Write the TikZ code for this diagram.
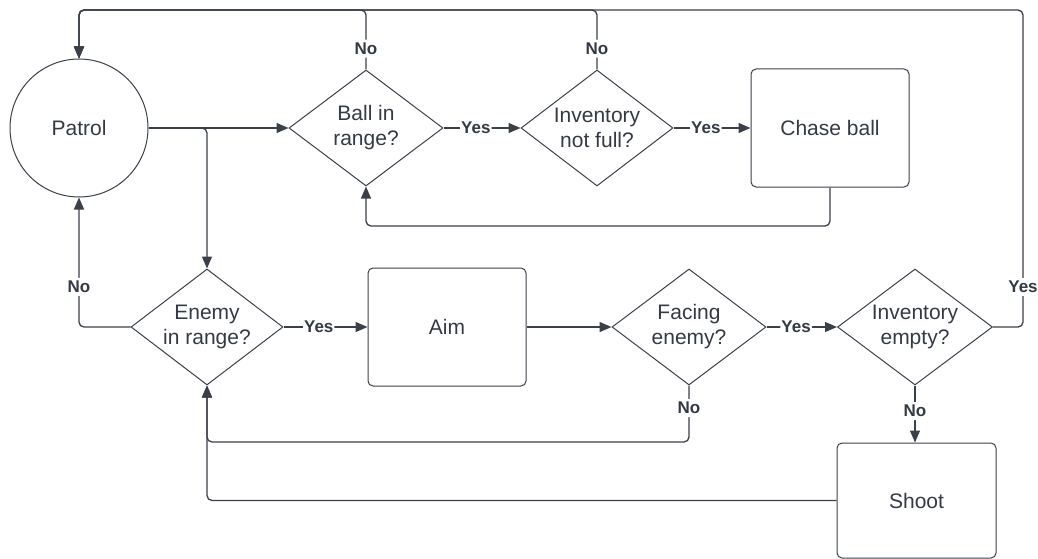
\documentclass[tikz,border=0pt]{standalone}
\usepackage{fontspec}
\setmainfont{Liberation Sans}
\usetikzlibrary{shapes.geometric,arrows.meta}

\definecolor{ink}{HTML}{3A4049}
\definecolor{txt}{HTML}{343A44}

\tikzset{
  every node/.style={text=txt},
  base/.style={draw=ink, line width=1pt, align=center,
    font=\fontsize{21}{25}\selectfont},
  stateC/.style={base, circle, minimum size=138pt, inner sep=0pt},
  task/.style={base, rectangle, rounded corners=5pt, minimum width=158pt,
    minimum height=118pt, inner sep=0pt},
  query/.style={base, diamond, minimum width=#1, minimum height=116pt,
    inner xsep=-40pt, inner ysep=-25pt},
  query/.default=154pt,
  link/.style={draw=ink, line width=1.3pt, rounded corners=5pt},
  arr/.style={link, -{Triangle[length=12pt,width=10pt]}},
  tag/.style={fill=white, inner xsep=1pt, inner ysep=3pt,
    font=\fontsize{17}{19}\selectfont\bfseries, text=txt}
}

\begin{document}
\begin{tikzpicture}[x=1pt, y=-1pt]
\useasboundingbox (0,0) rectangle (1038,559);

% states and decisions
\node[stateC] (patrol) at (79,128) {Patrol};
\node[query] (ball) at (366,128) {Ball in\\range?};
\node[query=152pt] (notfull) at (597,128) {Inventory\\not full?};
\node[task] (chase) at (830,128) {Chase ball};

\node[query=152pt] (enemy) at (207,327) {Enemy\\in range?};
\node[task] (aim) at (447,327) {Aim};
\node[query] (facing) at (689,327) {Facing\\enemy?};
\node[query=155pt] (empty) at (915,327) {Inventory\\empty?};
\node[task, minimum width=159pt, minimum height=115pt] (shoot) at (916.5,500.5) {Shoot};

% routing helpers
\coordinate (top) at (79,10);
\coordinate (rightrail) at (1023,10);
\coordinate (ballret) at (0,226);
\coordinate (aimret) at (0,442);

% patrol outputs
\draw[arr] (patrol.east) -- (ball.west);
\draw[arr] (patrol.east) -| (enemy.north);

% ball branch
\draw[arr] (ball.east) -- node[tag, pos=0.42] {Yes} (notfull.west);
\draw[arr] (notfull.east) -- node[tag, pos=0.42] {Yes} (chase.west);
\draw[arr] (chase.south) |- (ball.south |- ballret) -- (ball.south);

% returns to patrol along the top rail
\draw[arr] (ball.north) -- node[tag, pos=0.35] {No} (ball.north |- top) -| (patrol.north);
\draw[arr] (notfull.north) -- node[tag, pos=0.35] {No} (notfull.north |- top) -| (patrol.north);
\draw[arr] (empty.east) -| node[tag, pos=0.563] {Yes} (rightrail) -| (patrol.north);

% enemy branch
\draw[arr] (enemy.west) -| node[tag, pos=0.655] {No} (patrol.south);
\draw[arr] (enemy.east) -- node[tag, pos=0.42] {Yes} (aim.west);
\draw[arr] (aim.east) -- (facing.west);
\draw[arr] (facing.east) -- node[tag, pos=0.42] {Yes} (empty.west);
\draw[arr] (empty.south) -- node[tag, pos=0.45] {No} (empty.south |- shoot.north);
\draw[arr] (facing.south) |- node[tag, pos=0.2] {No} (enemy.south |- aimret) -- (enemy.south);
\draw[arr] (shoot.west) -| (enemy.south);
\end{tikzpicture}
\end{document}
